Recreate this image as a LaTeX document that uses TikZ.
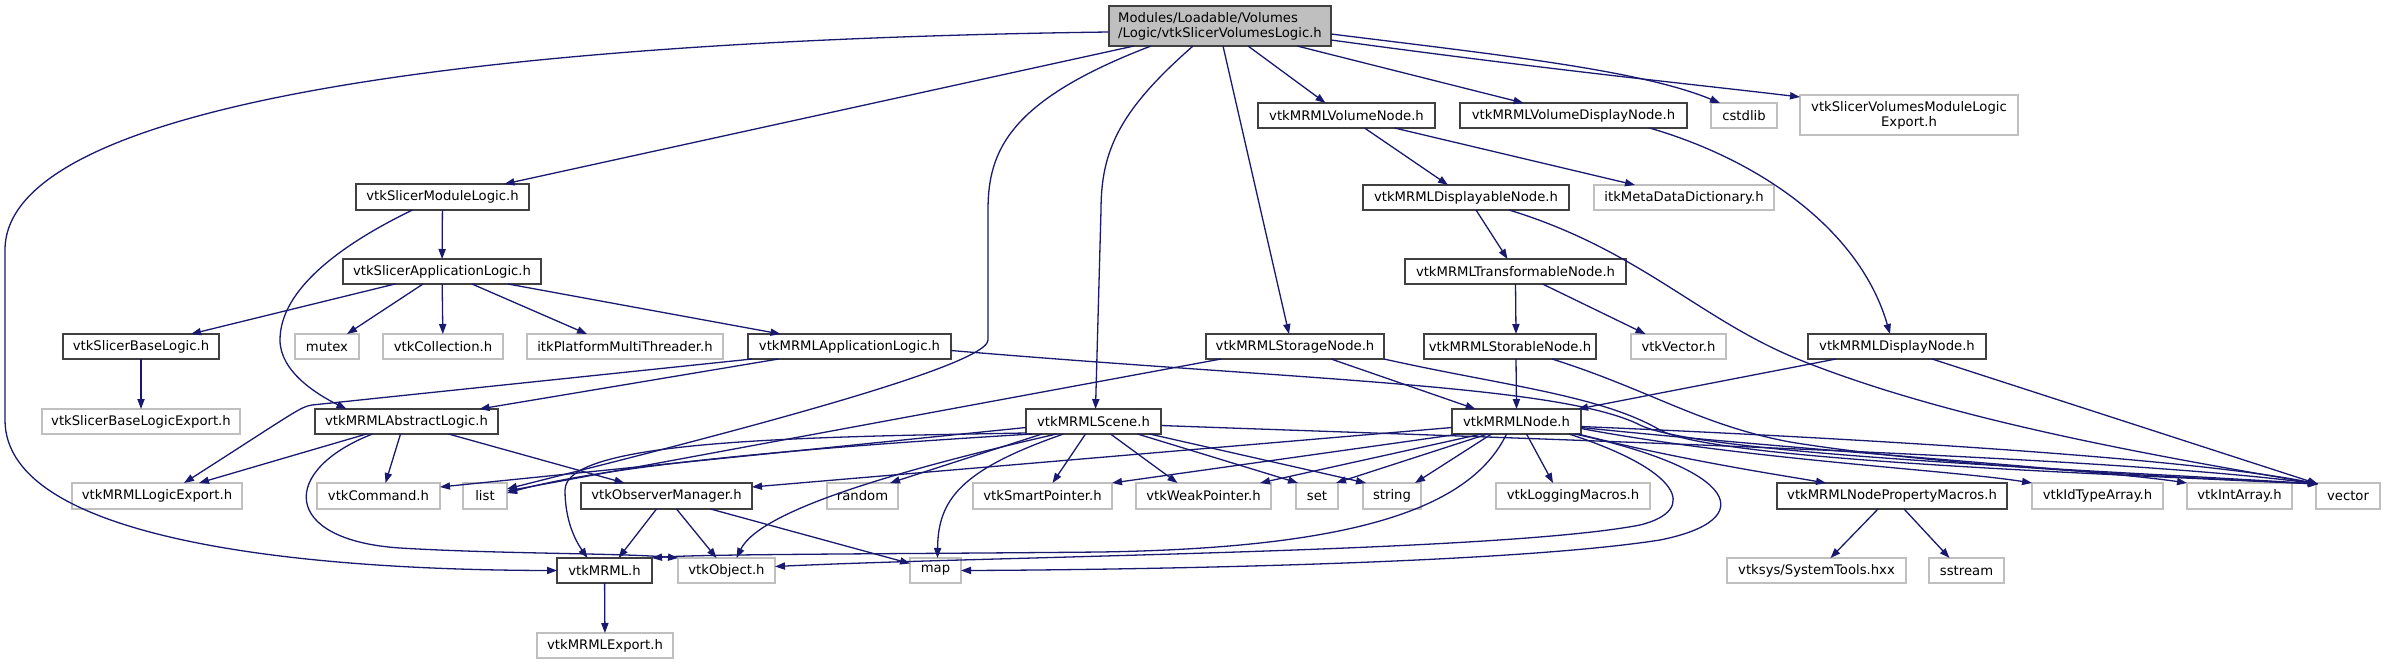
\documentclass[tikz,border=0pt]{standalone}
\usepackage{fontspec}
\setmainfont{DejaVu Sans}
\usetikzlibrary{arrows.meta,calc}
\definecolor{edgec}{HTML}{191970}
\definecolor{dkb}{HTML}{404040}
\definecolor{ltb}{HTML}{BFBFBF}
\definecolor{rootf}{HTML}{BFBFBF}
\newcommand\mkbox[7]{\node[#1, minimum width={(#5-#4)*0.5pt}, minimum height={(#7-#6)*0.5pt}] (#2) at ({(#4+#5)/2},{(#6+#7)/2}) {#3};}
\tikzset{
  bxbase/.style={rectangle, inner sep=0pt, outer sep=0pt, fill=white, text=black, font=\fontsize{6.6}{7.6}\selectfont, align=center},
  dk/.style={bxbase, draw=dkb, line width=0.8pt},
  lt/.style={bxbase, draw=ltb, line width=0.75pt},
  rt/.style={dk, fill=rootf, align=left},
  e/.style={draw=edgec, line width=0.65pt, -{Triangle[length=5pt,width=3.6pt]}}
}
\begin{document}
\begin{tikzpicture}[x=0.5pt,y=-0.5pt]
\useasboundingbox (0,0) rectangle (2385,664);
% nodes
\mkbox{rt}{r}{Modules/Loadable/Volumes\\/Logic/vtkSlicerVolumesLogic.h}{1109}{1331}{6}{46}
\mkbox{dk}{vn}{vtkMRMLVolumeNode.h}{1258}{1435}{103}{128}
\mkbox{dk}{vdn}{vtkMRMLVolumeDisplayNode.h}{1460}{1687}{103}{128}
\mkbox{lt}{cstd}{cstdlib}{1711}{1777}{103}{128}
\mkbox{lt}{vmle}{vtkSlicerVolumesModuleLogic\\Export.h}{1800}{2018}{95}{135}
\mkbox{dk}{sml}{vtkSlicerModuleLogic.h}{356}{529}{184}{210}
\mkbox{dk}{dn}{vtkMRMLDisplayableNode.h}{1363}{1569}{185}{210}
\mkbox{lt}{itkmd}{itkMetaDataDictionary.h}{1594}{1774}{185}{210}
\mkbox{dk}{sal}{vtkSlicerApplicationLogic.h}{343}{541}{259}{284}
\mkbox{dk}{tn}{vtkMRMLTransformableNode.h}{1405}{1626}{259}{284}
\mkbox{dk}{sbl}{vtkSlicerBaseLogic.h}{63}{219}{334}{359}
\mkbox{lt}{mutex}{mutex}{295}{359}{334}{359}
\mkbox{lt}{coll}{vtkCollection.h}{383}{503}{334}{359}
\mkbox{lt}{itkpm}{itkPlatformMultiThreader.h}{527}{723}{334}{359}
\mkbox{dk}{mal}{vtkMRMLApplicationLogic.h}{748}{951}{334}{359}
\mkbox{dk}{stn}{vtkMRMLStorageNode.h}{1206}{1384}{334}{359}
\mkbox{dk}{sto}{vtkMRMLStorableNode.h}{1424}{1596}{334}{359}
\mkbox{lt}{vvec}{vtkVector.h}{1631}{1726}{334}{359}
\mkbox{dk}{disp}{vtkMRMLDisplayNode.h}{1808}{1986}{334}{359}
\mkbox{lt}{sble}{vtkSlicerBaseLogicExport.h}{42}{240}{409}{434}
\mkbox{dk}{abl}{vtkMRMLAbstractLogic.h}{315}{498}{409}{434}
\mkbox{dk}{scene}{vtkMRMLScene.h}{1026}{1161}{409}{434}
\mkbox{dk}{node}{vtkMRMLNode.h}{1452}{1581}{409}{434}
\mkbox{lt}{mle}{vtkMRMLLogicExport.h}{72}{242}{483}{509}
\mkbox{lt}{cmd}{vtkCommand.h}{317}{440}{483}{509}
\mkbox{lt}{list}{list}{463}{507}{483}{509}
\mkbox{dk}{om}{vtkObserverManager.h}{581}{752}{483}{509}
\mkbox{lt}{random}{random}{827}{898}{483}{509}
\mkbox{lt}{sp}{vtkSmartPointer.h}{973}{1112}{483}{509}
\mkbox{lt}{wp}{vtkWeakPointer.h}{1136}{1271}{483}{509}
\mkbox{lt}{set}{set}{1296}{1338}{483}{509}
\mkbox{lt}{string}{string}{1363}{1421}{483}{509}
\mkbox{lt}{logm}{vtkLoggingMacros.h}{1496}{1650}{483}{509}
\mkbox{dk}{pm}{vtkMRMLNodePropertyMacros.h}{1777}{2007}{483}{509}
\mkbox{lt}{idt}{vtkIdTypeArray.h}{2032}{2163}{483}{509}
\mkbox{lt}{inta}{vtkIntArray.h}{2187}{2292}{483}{509}
\mkbox{lt}{vector}{vector}{2316}{2380}{483}{509}
\mkbox{dk}{mrml}{vtkMRML.h}{557}{652}{558}{583}
\mkbox{lt}{obj}{vtkObject.h}{678}{775}{558}{583}
\mkbox{lt}{map}{map}{910}{961}{558}{583}
\mkbox{lt}{vsys}{vtksys/SystemTools.hxx}{1727}{1906}{558}{583}
\mkbox{lt}{sstream}{sstream}{1929}{2004}{558}{583}
\mkbox{lt}{mexp}{vtkMRMLExport.h}{537}{673}{633}{658}
% edges from root
\draw[e] ($(r.west)+(0,6)$) .. controls (500,40) and (5,100) .. (5,250) -- (5,420) .. controls (5,540) and (300,570) .. (mrml.west);
\draw[e] ($(r.south)+(-86,0)$) -- ($(sml.north)+(62,0)$);
\draw[e] ($(r.south)+(-69,0)$) .. controls (1010,100) and (988,150) .. (988,210) -- (988,340) .. controls (988,370) and (640,455) .. ($(list.east)+(0,-7)$);
\draw[e] ($(r.south)+(-27,0)$) .. controls (1120,110) and (1101,150) .. (1101,210) -- ($(scene.north)+(2,0)$);
\draw[e] ($(r.south)+(3,0)$) -- ($(stn.north)+(-6,0)$);
\draw[e] ($(r.south)+(28,0)$) -- ($(vn.north)+(-21,0)$);
\draw[e] ($(r.south)+(77,0)$) -- ($(vdn.north)+(-50,0)$);
\draw[e] ($(r.east)+(0,8)$) .. controls (1500,55) and (1640,70) .. ($(cstd.north)+(-24,0)$);
\draw[e] ($(r.east)+(0,14)$) .. controls (1550,70) and (1700,85) .. ($(vmle.north west)+(0,2)$);
% logic side
\draw[e] (sml) -- (sal);
\draw[e] ($(sml.south)+(-30,0)$) .. controls (340,245) and (280,290) .. (280,340) .. controls (280,372) and (318,395) .. ($(abl.north)+(-60,0)$);
\draw[e] ($(sal.south)+(-47,0)$) -- ($(sbl.north)+(50,0)$);
\draw[e] ($(sal.south)+(-19,0)$) -- ($(mutex.north)+(20,0)$);
\draw[e] (sal) -- (coll);
\draw[e] ($(sal.south)+(30,0)$) -- ($(itkpm.north)+(-38,0)$);
\draw[e] ($(sal.south)+(66,0)$) -- ($(mal.north)+(-69,0)$);
\draw[e] (sbl) -- (sble);
\draw[e] ($(mal.south west)+(4,0)$) -- (312,405) .. controls (300,407) and (295,412) .. ($(mle.north)+(27,0)$);
\draw[e] ($(mal.south)+(-71,0)$) -- ($(abl.north)+(73,0)$);
\draw[e] ($(mal.east)+(0,4)$) .. controls (1300,380) and (1560,385) .. (1640,425) .. controls (1700,455) and (2100,470) .. ($(vector.north west)+(2,1)$);
\draw[e] ($(abl.south)+(-40,0)$) -- ($(mle.north)+(42,0)$);
\draw[e] ($(abl.south)+(-6,0)$) -- ($(cmd.north)+(7,0)$);
\draw[e] ($(abl.south)+(42,0)$) -- ($(om.north)+(-42,0)$);
\draw[e] ($(abl.south)+(-34,0)$) .. controls (280,470) and (280,540) .. (400,548) .. controls (500,554) and (620,553) .. (obj.north west);
\draw[e] ($(om.south)+(-10,0)$) -- ($(mrml.north)+(14,0)$);
\draw[e] ($(om.south)+(10,0)$) -- ($(obj.north)+(-10,0)$);
\draw[e] ($(om.south)+(44,0)$) -- ($(map.west)+(0,-7)$);
\draw[e] (mrml) -- (mexp);
% volume side
\draw[e] ($(vn.south)+(18,0)$) -- ($(dn.north)+(-18,0)$);
\draw[e] ($(vn.south)+(48,0)$) -- ($(itkmd.north)+(-49,0)$);
\draw[e] ($(vdn.south)+(76,0)$) .. controls (1760,160) and (1860,230) .. ($(disp.north)+(-7,0)$);
\draw[e] ($(dn.south)+(10,0)$) -- ($(tn.north)+(-8,0)$);
\draw[e] ($(dn.south)+(43,0)$) .. controls (1640,250) and (1700,320) .. (1800,360) .. controls (1950,420) and (2150,455) .. ($(vector.north west)+(2,1)$);
\draw[e] (tn.south) -- ($(sto.north)+(6,0)$);
\draw[e] ($(tn.south)+(27,0)$) -- ($(vvec.north)+(-33,0)$);
\draw[e] ($(sto.south)+(6,0)$) -- (node.north);
\draw[e] ($(sto.south)+(42,0)$) .. controls (1650,390) and (1700,425) .. (1790,442) .. controls (1950,468) and (2200,478) .. ($(vector.north west)+(2,1)$);
\draw[e] ($(disp.south)+(-61,0)$) -- ($(node.north east)+(-3,0)$);
\draw[e] ($(disp.south)+(35,0)$) -- ($(vector.north west)+(2,1)$);
\draw[e] ($(stn.south)+(-74,0)$) -- ($(list.east)+(0,-5)$);
\draw[e] ($(stn.south)+(36,0)$) -- ($(node.north)+(-41,0)$);
\draw[e] (stn.south east) .. controls (1500,385) and (1600,395) .. (1660,430) .. controls (1710,458) and (2050,472) .. ($(vector.north west)+(2,1)$);
% scene
\draw[e] ($(scene.south west)+(0,-1)$) .. controls (800,437) and (565,440) .. (565,490) .. controls (565,520) and (575,540) .. ($(mrml.north)+(-17,0)$);
\draw[e] ($(scene.west)+(0,6)$) -- ($(cmd.east)+(0,-9)$);
\draw[e] ($(scene.south west)+(6,0)$) .. controls (850,445) and (620,462) .. ($(list.east)+(0,-3)$);
\draw[e] ($(scene.south west)+(16,0)$) -- ($(random.north east)+(-8,0)$);
\draw[e] ($(scene.south)+(-37,0)$) .. controls (900,470) and (760,510) .. ($(obj.north)+(10,0)$);
\draw[e] ($(scene.south)+(-30,0)$) .. controls (960,470) and (938,500) .. ($(map.north)+(2,0)$);
\draw[e] ($(scene.south)+(-8,0)$) -- ($(sp.north)+(10,0)$);
\draw[e] ($(scene.south)+(17,0)$) -- ($(wp.north)+(-26,0)$);
\draw[e] ($(scene.south)+(44,0)$) -- ($(set.north west)+(2,0)$);
\draw[e] ($(scene.south)+(56,0)$) -- ($(string.north west)+(3,0)$);
\draw[e] ($(scene.east)+(0,4)$) .. controls (1500,438) and (2100,455) .. ($(vector.north west)+(2,1)$);
% node
\draw[e] ($(node.west)+(0,6)$) -- ($(om.east)+(0,-9)$);
\draw[e] ($(node.south west)+(8,0)$) -- (sp.north east);
\draw[e] ($(node.south)+(-35,0)$) -- ($(wp.north east)+(-11,0)$);
\draw[e] ($(node.south)+(-29,0)$) -- ($(set.north east)+(-2,0)$);
\draw[e] ($(node.south)+(-25,0)$) -- ($(string.north east)+(-6,0)$);
\draw[e] ($(node.south)+(10,0)$) -- ($(logm.north)+(-20,0)$);
\draw[e] ($(node.south)+(-10,0)$) .. controls (1470,510) and (1350,548) .. (1100,552) .. controls (900,554) and (700,554) .. (mrml.north east);
\draw[e] ($(node.south east)+(-12,0)$) .. controls (1680,470) and (1700,510) .. (1640,525) .. controls (1500,552) and (1000,556) .. ($(obj.east)+(0,-4)$);
\draw[e] ($(node.south east)+(-6,0)$) .. controls (1740,470) and (1760,520) .. (1660,540) .. controls (1500,565) and (1100,570) .. (map.east);
\draw[e] ($(node.south east)+(-3,0)$) .. controls (1680,460) and (1780,475) .. ($(pm.north)+(-66,0)$);
\draw[e] ($(node.east)+(0,7)$) .. controls (1750,460) and (1950,470) .. (idt.north west);
\draw[e] ($(node.east)+(0,6)$) .. controls (1800,450) and (2100,470) .. (inta.north west);
\draw[e] ($(node.east)+(0,5)$) .. controls (1900,440) and (2200,460) .. ($(vector.north west)+(2,1)$);
\draw[e] ($(pm.south)+(-14,0)$) -- ($(vsys.north)+(14,0)$);
\draw[e] ($(pm.south)+(12,0)$) -- ($(sstream.north)+(-17,0)$);
\end{tikzpicture}
\end{document}
